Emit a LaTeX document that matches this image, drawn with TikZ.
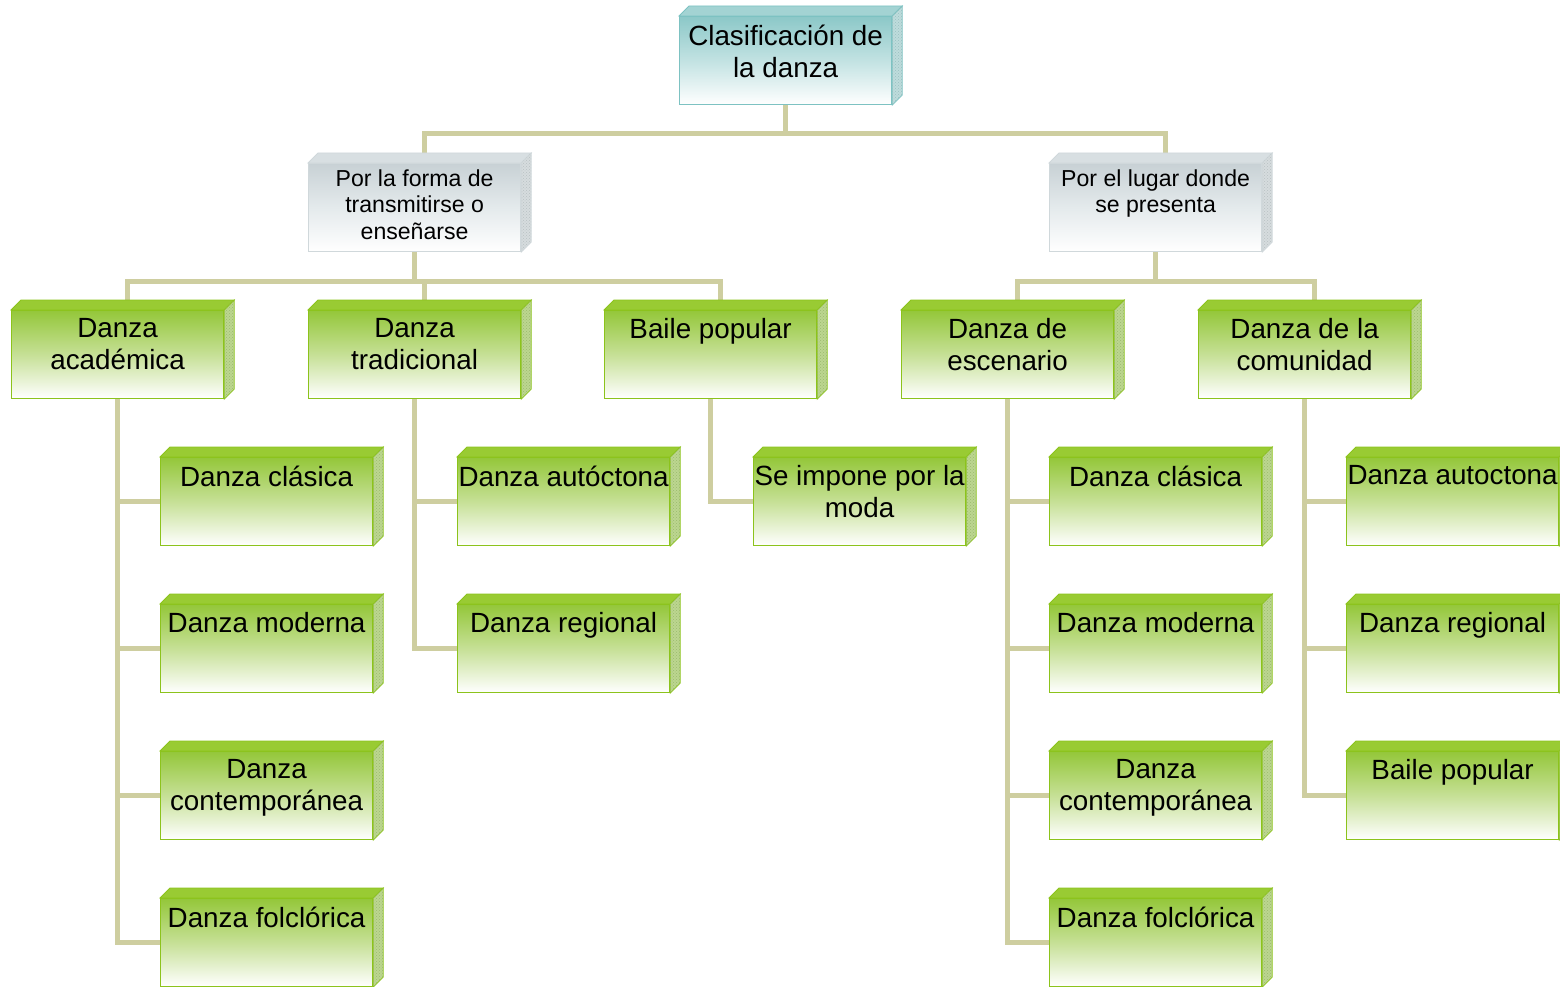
\documentclass[tikz,border=0pt]{standalone}
\usepackage{fontspec}
\setmainfont{Liberation Sans}
\usetikzlibrary{calc,backgrounds,patterns}
\definecolor{conncol}{HTML}{CECEA0}
\definecolor{gtop}{HTML}{94C73A}
\definecolor{gmid}{HTML}{C6E096}
\definecolor{gedge}{HTML}{8CC31C}
\definecolor{gtf}{HTML}{99CB33}
\definecolor{gside}{HTML}{BCD690}
\definecolor{gdots}{HTML}{9ABA6C}
\definecolor{btop}{HTML}{8CC8C8}
\definecolor{bmid}{HTML}{C2E2E2}
\definecolor{bedge}{HTML}{7DC2C2}
\definecolor{btf}{HTML}{A3D3D3}
\definecolor{bside}{HTML}{BEDCDC}
\definecolor{bdots}{HTML}{98C0C0}
\definecolor{stop}{HTML}{C8D1D5}
\definecolor{smid}{HTML}{E4EAEC}
\definecolor{sedge}{HTML}{D0D8DB}
\definecolor{stf}{HTML}{D8DFE2}
\definecolor{sside}{HTML}{D6DCDE}
\definecolor{sdots}{HTML}{B8C0C3}
\tikzset{
  conn/.style={draw=conncol, line width=5pt},
  frontface/.style={minimum width=212pt, minimum height=88pt, inner sep=0pt, anchor=north west, line width=1.2pt},
  greenbox/.style={frontface, draw=gedge, top color=gtop, bottom color=white, middle color=gmid},
  bluebox/.style={frontface, draw=bedge, top color=btop, bottom color=white, middle color=bmid},
  greybox/.style={frontface, draw=sedge, top color=stop, bottom color=white, middle color=smid},
  greentop/.style={fill=gtf, draw=gedge, line width=0.8pt},
  bluetop/.style={fill=btf, draw=bedge, line width=0.8pt},
  greytop/.style={fill=stf, draw=sedge, line width=0.8pt},
  greenside/.style={fill=gside, draw=gedge, line width=0.8pt},
  blueside/.style={fill=bside, draw=bedge, line width=0.8pt},
  greyside/.style={fill=sside, draw=sedge, line width=0.8pt},
  greendots/.style={pattern=crosshatch dots, pattern color=gdots},
  bluedots/.style={pattern=crosshatch dots, pattern color=bdots},
  greydots/.style={pattern=crosshatch dots, pattern color=sdots},
  bigtext/.style={font=\fontsize{27.8}{32}\selectfont, anchor=north, align=center, inner sep=0pt},
  midtext/.style={font=\fontsize{23.1}{26.5}\selectfont, anchor=north, align=center, inner sep=0pt},
}
\newcommand\cubebox[7]{%
  \node[#4box] (#1) at (#2,#3) {};
  \path[#4top] (#1.north west) -- ++(10,-10) -- ($(#1.north east)+(10,-10)$) -- (#1.north east) -- cycle;
  \path[#4side] (#1.north east) -- ++(10,-10) -- ($(#1.south east)+(10,-10)$) -- (#1.south east) -- cycle;
  \fill[#4dots] (#1.north east) -- ++(10,-10) -- ($(#1.south east)+(10,-10)$) -- (#1.south east) -- cycle;
  \coordinate (#1-tf) at ($(#1.north)+(10,-10)$);
  \node[#5] (#1-t) at ($(#1.north)+(0,#6)$) {#7};
}
\begin{document}
\begin{tikzpicture}[x=1pt,y=-1pt]
\useasboundingbox (0,0) rectangle (1560,987);
\cubebox{root}{679}{16}{blue}{bigtext}{8.5}{Clasificación de\\la danza}
\cubebox{la}{308}{163}{grey}{midtext}{6.5}{Por la forma de\\transmitirse o\\enseñarse}
\cubebox{lb}{1049}{163}{grey}{midtext}{6.5}{Por el lugar donde\\se presenta}
\cubebox{ga}{11}{310}{green}{bigtext}{8.5}{Danza\\académica}
\cubebox{gb}{308}{310}{green}{bigtext}{8.5}{Danza\\tradicional}
\cubebox{gc}{604}{310}{green}{bigtext}{8.5}{Baile popular}
\cubebox{gd}{901}{310}{green}{bigtext}{8.5}{Danza de\\escenario}
\cubebox{ge}{1198}{310}{green}{bigtext}{8.5}{Danza de la\\comunidad}
\cubebox{a1}{160}{457}{green}{bigtext}{8.5}{Danza clásica}
\cubebox{a2}{160}{604}{green}{bigtext}{8.5}{Danza moderna}
\cubebox{a3}{160}{751}{green}{bigtext}{8.5}{Danza\\contemporánea}
\cubebox{a4}{160}{898}{green}{bigtext}{8.5}{Danza folclórica}
\cubebox{b1}{457}{457}{green}{bigtext}{8.5}{Danza autóctona}
\cubebox{b2}{457}{604}{green}{bigtext}{8.5}{Danza regional}
\cubebox{c1}{753}{457}{green}{bigtext}{8.5}{Se impone por la\\moda}
\cubebox{d1}{1049}{457}{green}{bigtext}{8.5}{Danza clásica}
\cubebox{d2}{1049}{604}{green}{bigtext}{8.5}{Danza moderna}
\cubebox{d3}{1049}{751}{green}{bigtext}{8.5}{Danza\\contemporánea}
\cubebox{d4}{1049}{898}{green}{bigtext}{8.5}{Danza folclórica}
\cubebox{e1}{1346}{457}{green}{bigtext}{8.5}{Danza autoctona}
\cubebox{e2}{1346}{604}{green}{bigtext}{8.5}{Danza regional}
\cubebox{e3}{1346}{751}{green}{bigtext}{8.5}{Baile popular}
\begin{scope}[on background layer]
  \draw[conn] (root.south) -- ++(0,28) -| (la-tf);
  \draw[conn] (root.south) -- ++(0,28) -| (lb-tf);
  \draw[conn] (la.south) -- ++(0,29) -| (ga-tf);
  \draw[conn] (la.south) -- ++(0,29) -| (gb-tf);
  \draw[conn] (la.south) -- ++(0,29) -| (gc-tf);
  \draw[conn] (lb.south) -- ++(0,29) -| (gd-tf);
  \draw[conn] (lb.south) -- ++(0,29) -| (ge-tf);
  \foreach \c in {a1,a2,a3,a4} \draw[conn] (ga.south) |- (\c.west);
  \foreach \c in {b1,b2} \draw[conn] (gb.south) |- (\c.west);
  \draw[conn] (gc.south) |- (c1.west);
  \foreach \c in {d1,d2,d3,d4} \draw[conn] (gd.south) |- (\c.west);
  \foreach \c in {e1,e2,e3} \draw[conn] (ge.south) |- (\c.west);
\end{scope}
\end{tikzpicture}
\end{document}
